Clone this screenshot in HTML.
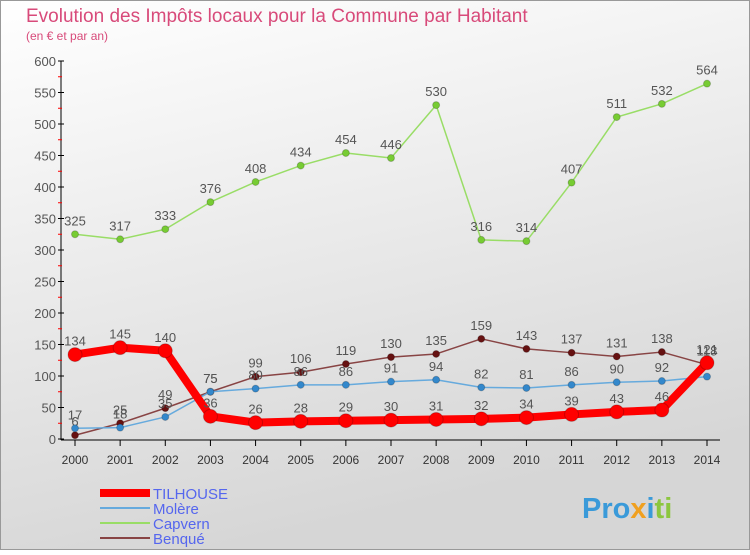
<!DOCTYPE html>
<html><head><meta charset="utf-8"><style>
body{margin:0;width:750px;height:550px;overflow:hidden;font-family:"Liberation Sans",sans-serif}
</style></head><body>
<svg width="750" height="550" xmlns="http://www.w3.org/2000/svg">
<defs><linearGradient id="bg" x1="0" y1="0" x2="0.3" y2="1"><stop offset="0" stop-color="#ffffff"/><stop offset="1" stop-color="#d6d6d6"/></linearGradient></defs>
<rect x="0.5" y="0.5" width="749" height="549" fill="url(#bg)" stroke="#999"/>
<text x="26" y="22" font-size="19" fill="#d84a7a">Evolution des Impôts locaux pour la Commune par Habitant</text>
<text x="26" y="40" font-size="12" fill="#d84a7a">(en € et par an)</text>
<g id="axes"></g><g id="series"></g><g id="legend"></g>
<text x="582" y="518" font-size="29" font-weight="bold" fill="#3a9ad9">Pro<tspan fill="#f0a020">x</tspan><tspan fill="#3a9ad9">i</tspan><tspan fill="#8cc63f">ti</tspan></text>
</svg>
<script>
const years=[2000,2001,2002,2003,2004,2005,2006,2007,2008,2009,2010,2011,2012,2013,2014];
const tilhouse=[134,145,140,36,26,28,29,30,31,32,34,39,43,46,121];
const molere=[17,18,35,75,80,86,86,91,94,82,81,86,90,92,99];
const capvern=[325,317,333,376,408,434,454,446,530,316,314,407,511,532,564];
const benque=[6,25,49,75,99,106,119,130,135,159,143,137,131,138,118];
const yTicks=[0,50,100,150,200,250,300,350,400,450,500,550,600];
const NS="http://www.w3.org/2000/svg";
const xs=i=>75+i*(707-75)/(years.length-1);
const ys=v=>439-v*(439-61)/600;
function mk(t,a,p){const e=document.createElementNS(NS,t);for(const k in a)e.setAttribute(k,a[k]);p.appendChild(e);return e;}
const ax=document.getElementById('axes');
let yl=mk('line',{x1:61,y1:61,x2:61,y2:440,stroke:'#000'},ax);


let xl=mk('line',{x1:61,y1:440,x2:720,y2:440,stroke:'#000'},ax);


yTicks.forEach(v=>{
  mk('line',{x1:58,y1:ys(v),x2:64,y2:ys(v),stroke:'#000'},ax);
  if(v<600)mk('line',{x1:58,y1:ys(v+25),x2:62,y2:ys(v+25),stroke:'#f00'},ax);
  const t=mk('text',{x:56,y:ys(v)+5,'font-size':13,fill:'#555','text-anchor':'end'},ax);
  t.textContent=v;
  
  
});
years.forEach((y,i)=>{
  mk('line',{x1:xs(i),y1:440,x2:xs(i),y2:446,stroke:'#000'},ax);
  const t=mk('text',{x:xs(i),y:464,'font-size':12,fill:'#333','text-anchor':'middle'},ax);
  t.textContent=y;
  
  
});
const sg=document.getElementById('series');
const series=[
 {name:'capvern',vals:capvern,c:'#99dd66',w:1.5,r:3.5,fc:'#77cc33'},
 {name:'benque',vals:benque,c:'#884444',w:1.5,r:3.5,fc:'#661111'},
 {name:'molere',vals:molere,c:'#66aadd',w:1.5,r:3.5,fc:'#3388cc'},
 {name:'tilhouse',vals:tilhouse,c:'#ff0000',w:8,r:7,fc:'#ff0000'}
];
series.forEach(s=>{
  const g=mk('g',{},sg);
  
  
  const pl=mk('polyline',{points:s.vals.map((v,i)=>xs(i)+','+ys(v)).join(' '),fill:'none',stroke:s.c,'stroke-width':s.w,'stroke-linejoin':'round'},g);
  
  
  s.vals.forEach((v,i)=>{
    const c=mk('circle',{cx:xs(i),cy:ys(v),r:s.r,fill:s.fc,stroke:'rgba(0,0,0,0.2)'},g);
    
    
    const t=mk('text',{x:xs(i),y:ys(v)-9,'font-size':13,fill:'#555','text-anchor':'middle'},g);
    t.textContent=v;
    
    
  });
});
const lg=document.getElementById('legend');
const leg=[['TILHOUSE','#ff0000',8],['Molère','#66aadd',2],['Capvern','#99dd66',2],['Benqué','#884444',2]];
leg.forEach((l,i)=>{
  const y=493+i*15;
  const g=mk('g',{},lg);
  
  
  mk('line',{x1:100,y1:y,x2:150,y2:y,stroke:l[1],'stroke-width':l[2]},g);
  const t=mk('text',{x:153,y:y+6,'font-size':15,fill:'#5566ee'},g);
  t.textContent=l[0];
});
</script>
</body></html>
